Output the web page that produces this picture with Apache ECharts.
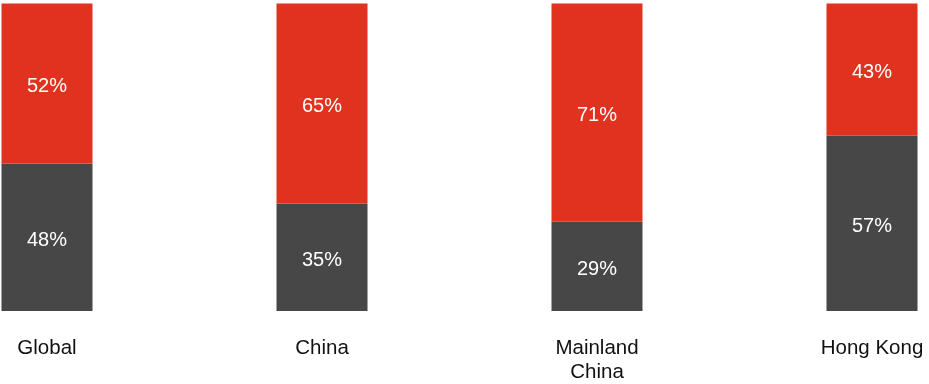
<!DOCTYPE html>
<html>
<head>
<meta charset="utf-8">
<script src="https://cdn.jsdelivr.net/npm/echarts@6/dist/echarts.min.js"></script>
<style>
  html, body { margin: 0; padding: 0; background: #fff; }
  #chart { width: 929px; height: 384px; }
</style>
</head>
<body>
<div id="chart"></div>
<script>
// regions along the bottom
const categories = ['Global', 'China', 'Mainland\nChina', 'Hong Kong']
// lower (dark) and upper (red) shares, in percent
const darkShare = [48, 35, 29, 57]
const redShare = [52, 65, 71, 43]

const pctLabel = {
    show: true,
    position: 'inside',
    offset: [0, 3],
    color: '#fff',
    fontFamily: 'Liberation Sans, Arial, sans-serif',
    fontSize: 20,
    formatter: p => p.value + '%'
}

const option = {
    animation: false,
    grid: { left: 47, right: 57, top: 3.5, height: 309 },
    xAxis: {
        type: 'category',
        data: categories,
        boundaryGap: false,
        axisLine: { show: false },
        axisTick: { show: false },
        axisLabel: {
            margin: 26,
            color: '#111',
            fontFamily: 'Liberation Sans, Arial, sans-serif',
            fontSize: 20.5,
            lineHeight: 23.5
        }
    },
    yAxis: {
        type: 'value',
        min: 0,
        max: 100,
        show: false
    },
    series: [{
        type: 'bar',
        stack: 'share',
        barWidth: 91,
        data: darkShare,
        itemStyle: { color: '#474747' },
        label: pctLabel
    }, {
        type: 'bar',
        stack: 'share',
        barWidth: 91,
        data: redShare,
        itemStyle: { color: '#e0321f' },
        label: pctLabel
    }]
}

const chart = echarts.init(document.getElementById('chart'))
chart.setOption(option)
</script>
</body>
</html>
